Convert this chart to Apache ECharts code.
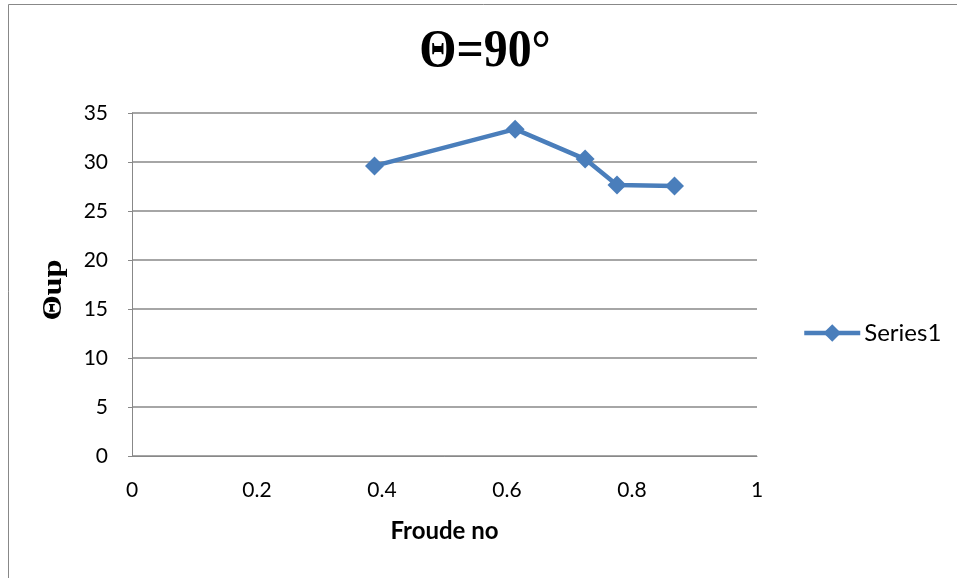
<!DOCTYPE html>
<html>
<head>
<meta charset="utf-8">
<script src="https://cdn.jsdelivr.net/npm/echarts@6/dist/echarts.min.js"></script>
<style>
  html, body { margin: 0; padding: 0; background: #fff; }
  #chart { width: 957px; height: 578px; }
</style>
</head>
<body>
<div id="chart"></div>
<script>
// Froude number vs upstream angle, θ = 90°
const froude = [0.388, 0.613, 0.725, 0.776, 0.868];
const thetaUp = [29.6, 33.35, 30.3, 27.65, 27.55];
const seriesName = 'Series1';
const chartTitle = 'Θ=90°';
const xAxisTitle = 'Froude no';
const yAxisTitle = 'Θup';
const xTicks = { min: 0, max: 1, interval: 0.2 };
const yTicks = { min: 0, max: 35, interval: 5 };

const labelFont = 'Lato, "Liberation Sans", sans-serif';
const serifFont = '"Liberation Serif", "Times New Roman", serif';
const lineColor = '#4a7ebb';
const gridColor = '#888888';

const chart = echarts.init(document.getElementById('chart'), null, { renderer: 'canvas' });

chart.setOption({
  backgroundColor: '#ffffff',
  animation: false,
  legend: {
    data: [seriesName],
    left: 802,
    top: 321,
    padding: 0,
    itemWidth: 56,
    itemHeight: 22,
    lineStyle: { width: 4.5 },
    textStyle: { fontFamily: labelFont, fontSize: 24, color: '#000', padding: [0, 0, 0, -1] }
  },
  grid: { left: 132, right: 200, top: 113, bottom: 122, containLabel: false },
  xAxis: {
    type: 'value',
    min: xTicks.min,
    max: xTicks.max,
    interval: xTicks.interval,
    name: xAxisTitle,
    nameLocation: 'middle',
    nameGap: 63,
    nameTextStyle: { fontFamily: labelFont, fontWeight: 'bold', fontSize: 24, color: '#000' },
    axisLine: { show: true, lineStyle: { color: gridColor, width: 1 } },
    axisTick: { show: false },
    splitLine: { show: false },
    axisLabel: { fontFamily: labelFont, fontSize: 21, color: '#000', margin: 24 }
  },
  yAxis: {
    type: 'value',
    min: yTicks.min,
    max: yTicks.max,
    interval: yTicks.interval,
    axisLine: { show: true, lineStyle: { color: gridColor, width: 1 } },
    axisTick: { show: true, length: 4, inside: false, lineStyle: { color: gridColor } },
    splitLine: { show: true, lineStyle: { color: gridColor, width: 1.5 } },
    axisLabel: { fontFamily: labelFont, fontSize: 21, color: '#000', margin: 24 }
  },
  graphic: [
    {
      type: 'rect',
      shape: { x: 8.5, y: 4.5, width: 1200, height: 900 },
      style: { fill: 'none', stroke: '#888888', lineWidth: 1 },
      silent: true
    },
    {
      type: 'text',
      x: 485,
      y: 53,
      scaleX: 0.92,
      style: {
        text: chartTitle,
        textAlign: 'center',
        textVerticalAlign: 'middle',
        fontFamily: serifFont,
        fontWeight: 'bold',
        fontSize: 52,
        fill: '#000'
      },
      silent: true
    },
    {
      type: 'text',
      x: 54,
      y: 290,
      rotation: Math.PI / 2,
      scaleX: 1.2,
      style: {
        text: yAxisTitle,
        textAlign: 'center',
        textVerticalAlign: 'middle',
        fontFamily: serifFont,
        fontWeight: 'bold',
        fontSize: 27,
        fill: '#000'
      },
      silent: true
    }
  ],
  series: [
    {
      name: seriesName,
      type: 'line',
      data: froude.map((f, i) => [f, thetaUp[i]]),
      symbol: 'diamond',
      symbolSize: 19,
      lineStyle: { color: lineColor, width: 4.5 },
      itemStyle: { color: lineColor },
      emphasis: { disabled: true }
    }
  ]
});
</script>
</body>
</html>
